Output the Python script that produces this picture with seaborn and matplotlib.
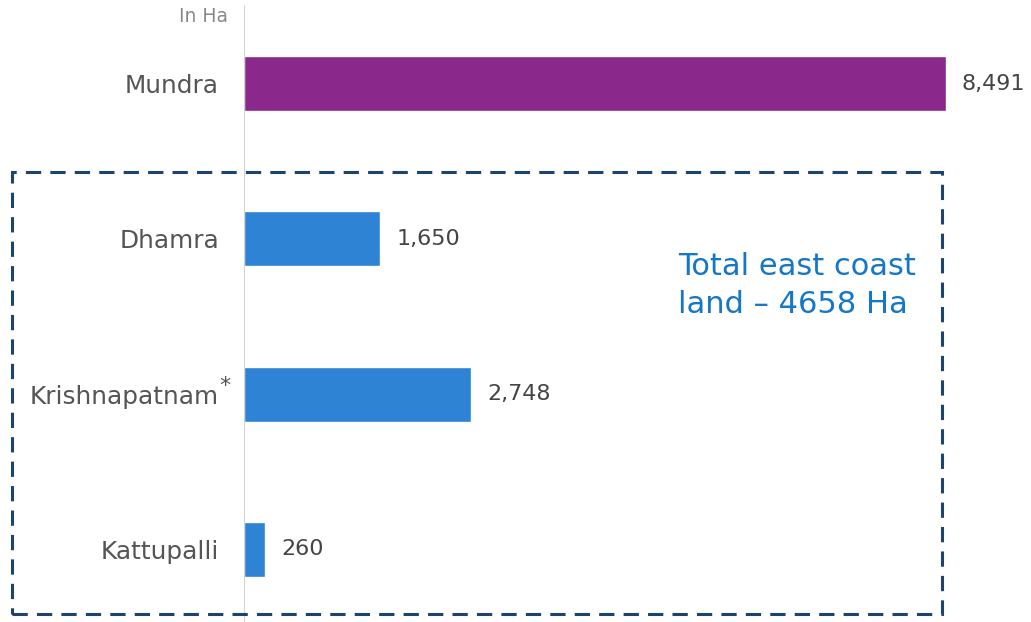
import matplotlib
matplotlib.use("Agg")
import matplotlib.pyplot as plt
import matplotlib.patches as mpatches
import seaborn as sns
import pandas as pd

ports = ["Mundra", "Dhamra", "Krishnapatnam*", "Kattupalli"]
land_ha = [8491, 1650, 2748, 260]
bar_colors = ["#8B288C", "#2E83D5", "#2E83D5", "#2E83D5"]

sns.set_theme(style="white")
plt.rcParams["font.family"] = ["DejaVu Sans"]

W, H = 1031, 622
fig = plt.figure(figsize=(W / 100, H / 100), dpi=100)
ax = fig.add_axes([244 / W, 0, 1 - 244 / W, 1])

df = pd.DataFrame({"port": ports, "land": land_ha})
sns.barplot(data=df, x="land", y="port", hue="port", palette=bar_colors,
            orient="h", width=0.354, legend=False, ax=ax, saturation=1)

ax.set_xlim(0, 9519)
ax.set_ylim(3.467, -0.538)
for s in ax.spines.values():
    s.set_visible(False)
ax.axvline(0, ymin=0, ymax=(H - 6) / H, color="#d2d2d2", lw=1.5)
ax.set_xticks([])
ax.set_xlabel("")
ax.set_ylabel("")

# port names on the left; a footnote asterisk hangs past the label edge
ax.set_yticks(range(len(ports)))
ax.set_yticklabels([p.rstrip("*") for p in ports], fontsize=17.8, color="#555555")
ax.tick_params(axis="y", length=0, pad=18)
for i, p in enumerate(ports):
    if p.endswith("*"):
        ax.annotate("*", xy=(0, i), xytext=(-18, -1), textcoords="offset points",
                    ha="left", va="bottom", fontsize=16, color="#555555",
                    annotation_clip=False)

# value labels at bar ends
for i, v in enumerate(land_ha):
    ax.text(v + 190, i, f"{v:,}", va="center", ha="left",
            fontsize=16, color="#444444")

fig.text(228 / W, 1 - 17 / H, "In Ha", ha="right", va="center",
         fontsize=13.5, color="#888888")

# dashed frame around the east coast ports
box = mpatches.Rectangle((12 / W, 1 - 614 / H), (942 - 12) / W, (614 - 172) / H,
                         transform=fig.transFigure, fill=False,
                         edgecolor="#1D4470", lw=2.2, linestyle=(0, (5, 3)),
                         clip_on=False)
fig.patches.append(box)

fig.text(678 / W, 1 - 285.5 / H, "Total east coast\nland \u2013 4658 Ha",
         ha="left", va="center", fontsize=22, color="#1477C8",
         linespacing=1.36)

fig.savefig("out.png", dpi=100)
